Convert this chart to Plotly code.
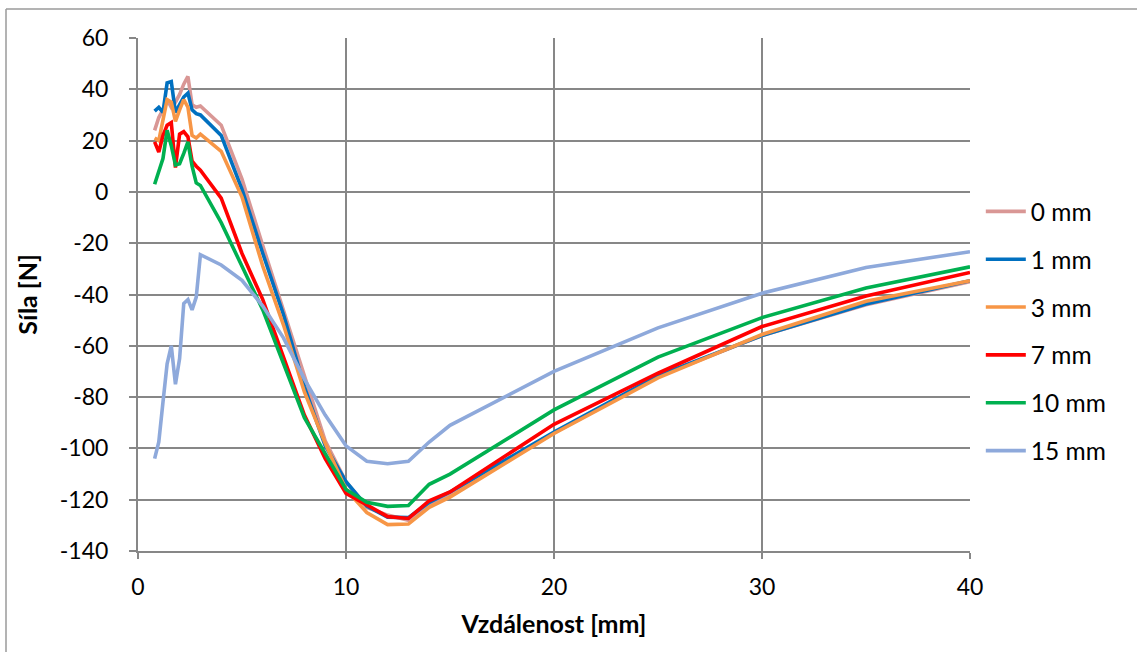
import plotly.graph_objects as go

# Distance [mm]
vzdalenost = [0.8, 1.0, 1.2, 1.4, 1.6, 1.8, 2.0, 2.2, 2.4, 2.6, 2.8, 3.0,
              4, 5, 6, 7, 8, 9, 10, 11, 12, 13, 14, 15, 20, 25, 30, 35, 40]

# Force [N] for each offset
sila_0mm = [24, 29, 32, 36, 33, 35, 38, 42, 45, 34, 33, 33.5,
            26, 5, -21, -46, -72, -97, -113, -123, -126, -128, -122, -118, -94, -72, -56, -44, -35]
sila_1mm = [31.5, 33, 31, 42.5, 43, 31, 34, 37, 38.5, 32, 30.5, 30,
            22, 1, -24, -48, -76, -99, -113, -122.5, -126.8, -127, -121, -117, -93.6, -71.6, -56, -43.7, -34.6]
sila_3mm = [21, 20, 28, 36, 35, 27.5, 32, 36, 33, 22, 21, 22.5,
            15.8, -2, -29, -52, -78, -98, -116, -125, -129.7, -129.5, -123, -119, -94.2, -72.5, -55.6, -42.6, -34.6]
sila_7mm = [19.5, 15.5, 22, 26, 27, 9.5, 22.5, 23.5, 21.5, 12, 10, 8.5,
            -2.4, -24, -42, -65, -87, -104, -117.5, -122, -126.6, -127.3, -120.4, -117, -90.6, -70.7, -52.5, -40.6, -31.4]
sila_10mm = [3, 8.5, 13, 24, 18, 10.5, 11, 15, 19.5, 10, 3.5, 2.5,
             -12, -29, -46, -67, -88, -102, -116, -121, -122.6, -122.3, -114, -110, -85, -64.4, -49, -37.5, -29.2]
sila_15mm = [-104, -97.5, -82, -67, -60, -75, -65, -43.5, -42, -46, -41, -24.5,
             -28.5, -34.5, -44.5, -57, -73, -87, -99, -105, -106, -105, -97.5, -91, -70, -53, -39.5, -29.5, -23.3]

# Axis ticks
x_ticks = [0, 10, 20, 30, 40]
y_ticks = [60, 40, 20, 0, -20, -40, -60, -80, -100, -120, -140]
y_tick_text = [str(v) for v in y_ticks]

serie = [
    ("0 mm", sila_0mm, "#D99795"),
    ("1 mm", sila_1mm, "#0070C0"),
    ("3 mm", sila_3mm, "#F79646"),
    ("7 mm", sila_7mm, "#FF0000"),
    ("10 mm", sila_10mm, "#00B050"),
    ("15 mm", sila_15mm, "#8EA9DB"),
]

FONT = "Lato"
FS_TICK = 23
FS_LEG = 24.5
FS_TITLE = 25
GRID = "#878787"

fig = go.Figure()
for nazev, hodnoty, barva in serie:
    fig.add_trace(go.Scatter(
        x=vzdalenost, y=hodnoty, name=nazev, legendgroup=nazev, mode="lines",
        line=dict(color=barva, width=3.6),
    ))

fig.update_layout(
    width=1137, height=652,
    margin=dict(l=138, r=167, t=38, b=101),
    paper_bgcolor="white", plot_bgcolor="white",
    font=dict(family=FONT, size=FS_TICK, color="black"),
    showlegend=True,
    legend=dict(
        x=1.013, y=0.428, xanchor="left", yanchor="middle",
        font=dict(family=FONT, size=FS_LEG, color="black"),
        tracegroupgap=13, itemwidth=40,
        bgcolor="rgba(0,0,0,0)",
    ),
    xaxis=dict(
        range=[0, 40], tickvals=x_ticks,
        showgrid=True, gridcolor=GRID, gridwidth=2,
        showline=True, linecolor=GRID, linewidth=2,
        ticks="outside", ticklen=6, tickcolor=GRID, tickwidth=2,
        ticklabelstandoff=8,
        zeroline=False,
        title=dict(text="<b>Vzdálenost [mm]</b>", font=dict(family=FONT, size=FS_TITLE), standoff=17),
    ),
    yaxis=dict(
        range=[-140, 60], tickvals=y_ticks, ticktext=y_tick_text,
        showgrid=True, gridcolor=GRID, gridwidth=2,
        showline=True, linecolor=GRID, linewidth=2,
        ticks="outside", ticklen=7, tickcolor=GRID, tickwidth=2,
        ticklabelstandoff=16,
        zeroline=False,
        title=dict(text="<b>Síla [N]</b>", font=dict(family=FONT, size=FS_TITLE), standoff=15),
    ),
)

# chart frame (left and top edges)
fx0 = (6 - 138) / 832
fy1 = (551 - 9) / 513
fig.add_shape(type="line", xref="paper", yref="paper", x0=fx0, x1=fx0, y0=-0.3, y1=fy1,
              line=dict(color="#9A9A9A", width=1.5))
fig.add_shape(type="line", xref="paper", yref="paper", x0=fx0, x1=1.4, y0=fy1, y1=fy1,
              line=dict(color="#9A9A9A", width=1.5))

fig.write_html("out.html")
